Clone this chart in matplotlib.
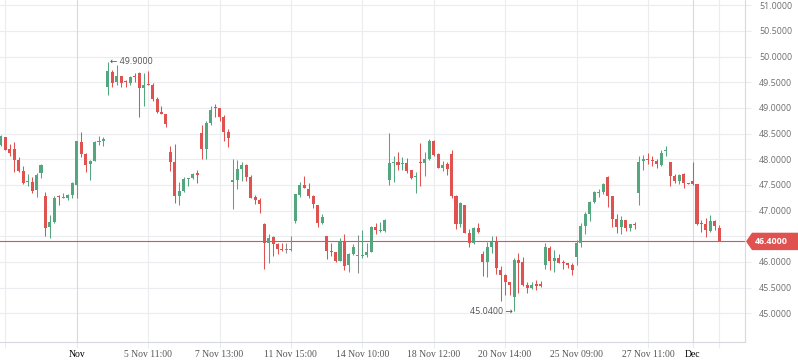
import matplotlib
matplotlib.use("Agg")
import matplotlib.pyplot as plt
from matplotlib.patches import Polygon
import numpy as np

# ---- data (hourly candles, index-based axis) ----
opens = [48.27, 48.43, 48.21, 48.21, 47.99, 47.77, 47.55, 47.55, 47.40, 47.73,
         47.29, 46.69, 46.78, 47.28, 47.25, 47.25, 47.30, 47.49, 48.34, 48.10,
         47.90, 47.97, 48.33, 48.36, 49.40, 49.71, 49.51, 49.62, 49.51, 49.48,
         49.62, 49.69, 49.38, 49.46, 49.45, 49.17, 48.91, 48.88, 48.14, 47.95,
         47.29, 47.38, 47.62, 47.63, 47.73, 48.51, 48.21, 48.71, 49.02, 49.00,
         48.82, 48.53, 47.56, 47.59, 47.82, 47.88, 47.66, 47.26, 47.21, 46.73,
         46.37, 46.48, 46.34, 46.25, 46.23, 46.23, 46.80, 47.30, 47.50, 47.42,
         47.29, 47.11, 46.76, 46.50, 46.22, 46.19, 46.02, 46.39, 45.94, 46.16,
         46.11, 46.11, 46.14, 46.20, 46.69, 46.61, 46.61, 47.60, 47.93, 47.94,
         47.90, 47.93, 47.79, 47.65, 47.94, 47.93, 48.00, 48.36, 48.11, 47.84,
         47.91, 48.10, 47.28, 46.74, 47.10, 46.56, 46.37, 46.66, 46.15, 46.00,
         46.30, 46.39, 45.85, 45.74, 45.61, 45.31, 46.04, 46.00, 45.55, 45.50,
         45.55, 45.55, 45.94, 46.28, 46.02, 46.07, 45.99, 45.97, 45.94, 46.10,
         46.37, 46.70, 46.94, 47.17, 47.35, 47.36, 47.66, 47.28, 46.84, 46.69,
         46.82, 46.67, 46.74, 47.35, 47.97, 48.01, 47.99, 47.97, 47.89, 48.16,
         47.95, 47.68, 47.58, 47.71, 47.54, 47.58, 47.52, 46.76, 46.73, 46.61,
         46.79, 46.66]
highs = [48.47, 48.43, 48.29, 48.34, 48.04, 47.86, 47.71, 47.65, 47.74, 47.91,
         47.37, 46.91, 47.29, 47.30, 47.35, 47.32, 47.56, 48.36, 48.53, 48.13,
         47.99, 48.35, 48.45, 48.43, 49.90, 49.74, 49.84, 49.62, 49.55, 49.62,
         49.68, 49.70, 49.68, 49.72, 49.49, 49.22, 49.04, 48.88, 48.26, 48.30,
         47.56, 47.66, 47.64, 47.74, 47.79, 48.67, 48.75, 49.03, 49.08, 49.00,
         48.86, 48.59, 48.00, 47.98, 47.95, 47.91, 47.69, 47.31, 47.25, 46.75,
         46.54, 46.51, 46.37, 46.37, 46.37, 46.50, 47.32, 47.56, 47.67, 47.53,
         47.31, 47.11, 46.93, 46.50, 46.37, 46.19, 46.46, 46.55, 46.17, 46.35,
         46.52, 46.62, 46.36, 46.70, 46.75, 46.78, 46.84, 48.52, 48.06, 48.14,
         48.04, 48.02, 47.80, 47.75, 48.32, 48.14, 48.40, 48.38, 48.13, 47.97,
         47.95, 48.18, 47.30, 47.16, 47.10, 46.64, 46.69, 46.76, 46.22, 46.38,
         46.50, 46.50, 45.93, 45.76, 45.61, 46.08, 46.18, 46.10, 45.61, 45.61,
         45.64, 45.63, 46.37, 46.31, 46.23, 46.15, 46.04, 45.98, 45.98, 46.43,
         46.76, 46.97, 47.19, 47.39, 47.42, 47.54, 47.67, 47.28, 46.93, 46.89,
         46.82, 46.74, 46.78, 48.06, 48.08, 48.13, 48.06, 48.01, 48.18, 48.26,
         47.95, 47.71, 47.72, 47.73, 47.54, 47.95, 47.52, 46.82, 46.85, 46.91,
         46.82, 46.72]
lows = [48.25, 48.18, 48.06, 47.76, 47.76, 47.52, 47.47, 47.35, 47.27, 47.64,
        46.51, 46.47, 46.75, 47.11, 47.24, 47.21, 47.25, 47.25, 48.05, 47.76,
        47.60, 47.97, 48.27, 48.25, 49.25, 49.41, 49.45, 49.40, 49.40, 49.45,
        49.51, 48.83, 49.03, 49.44, 49.14, 48.90, 48.88, 48.62, 47.78, 47.15,
        47.11, 47.36, 47.47, 47.61, 47.53, 48.01, 48.01, 48.67, 48.83, 48.74,
        48.36, 48.23, 47.03, 47.43, 47.58, 47.58, 47.25, 47.12, 46.96, 45.87,
        45.97, 46.12, 46.16, 46.21, 46.17, 46.21, 46.75, 47.27, 47.45, 47.25,
        47.06, 46.69, 46.74, 46.06, 46.12, 46.00, 46.02, 45.84, 45.81, 46.14,
        45.78, 46.07, 46.10, 46.20, 46.54, 46.59, 46.59, 47.50, 47.56, 47.80,
        47.80, 47.74, 47.62, 47.35, 47.47, 47.67, 47.98, 48.06, 47.83, 47.78,
        47.70, 47.24, 46.64, 46.69, 46.57, 46.30, 46.34, 46.57, 45.73, 45.71,
        46.17, 45.76, 45.24, 45.36, 45.36, 45.04, 45.39, 45.53, 45.39, 45.48,
        45.45, 45.52, 45.86, 45.84, 45.81, 45.98, 45.87, 45.88, 45.74, 45.94,
        46.29, 46.54, 46.80, 47.15, 47.27, 47.33, 47.08, 46.68, 46.57, 46.55,
        46.61, 46.61, 46.64, 47.11, 47.79, 47.90, 47.86, 47.84, 47.86, 48.06,
        47.47, 47.54, 47.51, 47.44, 47.52, 47.49, 46.72, 46.59, 46.49, 46.58,
        46.62, 46.40]
closes = [48.45, 48.18, 48.13, 47.99, 47.78, 47.54, 47.56, 47.39, 47.69, 47.89,
          46.67, 46.78, 47.25, 47.26, 47.26, 47.30, 47.54, 48.36, 48.11, 47.89,
          47.97, 48.34, 48.36, 48.40, 49.72, 49.49, 49.62, 49.49, 49.50, 49.61,
          49.61, 49.38, 49.45, 49.44, 49.17, 48.93, 48.89, 48.69, 47.95, 47.29,
          47.38, 47.62, 47.63, 47.72, 47.70, 48.21, 48.71, 48.96, 49.00, 48.83,
          48.54, 48.42, 47.59, 47.81, 47.88, 47.66, 47.25, 47.21, 47.13, 46.37,
          46.46, 46.34, 46.26, 46.23, 46.23, 46.25, 47.32, 47.50, 47.45, 47.29,
          47.12, 46.76, 46.87, 46.22, 46.20, 46.02, 46.39, 45.93, 46.15, 46.29,
          46.11, 46.13, 46.19, 46.68, 46.63, 46.62, 46.82, 47.92, 47.94, 47.88,
          47.92, 47.78, 47.63, 47.67, 47.92, 48.00, 48.36, 48.08, 47.83, 47.89,
          47.81, 47.29, 46.74, 47.14, 46.57, 46.37, 46.66, 46.58, 46.00, 46.29,
          46.39, 45.89, 45.75, 45.61, 45.56, 46.04, 45.98, 45.55, 45.50, 45.56,
          45.54, 45.54, 46.29, 46.02, 46.07, 45.98, 45.97, 45.95, 45.85, 46.37,
          46.70, 46.93, 47.17, 47.36, 47.37, 47.52, 47.29, 46.84, 46.68, 46.82,
          46.67, 46.74, 46.72, 47.95, 48.01, 47.99, 47.97, 47.91, 48.12, 48.17,
          47.67, 47.58, 47.69, 47.53, 47.52, 47.52, 46.73, 46.73, 46.63, 46.79,
          46.70, 46.40]

tick_pos = [1, 17, 33, 49, 65, 81, 97, 113, 129, 145, 155, 161]
tick_labels = ["", "Nov", "5 Nov 11:00", "7 Nov 13:00", "11 Nov 15:00",
               "14 Nov 10:00", "18 Nov 12:00", "20 Nov 14:00", "25 Nov 09:00",
               "27 Nov 11:00", "Dec", ""]
month_ticks = ["Nov", "Dec"]
y_ticks = [45.0, 45.5, 46.0, 46.5, 47.0, 47.5, 48.0, 48.5, 49.0, 49.5, 50.0, 50.5, 51.0]
last_price = 46.40
hi_label = (24, 49.90)
lo_label = (115, 45.04)

# ---- style ----
GREEN = "#53a67e"
RED = "#e0524f"
GRAY = "#8a8a8a"
GRID = "#eaecef"
GRID_DARK = "#d6d9de"

W, H = 798, 363
fig = plt.figure(figsize=(W / 100, H / 100), dpi=100)
ax_left, ax_right, ax_top, ax_bottom = 0, 745, 0, 342
ax = fig.add_axes([ax_left / W, (H - ax_bottom) / H,
                   (ax_right - ax_left) / W, (ax_bottom - ax_top) / H])

o = np.array(opens); h = np.array(highs); l = np.array(lows); c = np.array(closes)
x = np.arange(len(o))
cols = [GRAY if oo == cc else (GREEN if cc > oo else RED) for oo, cc in zip(o, c)]

ax.vlines(x, l, h, colors=cols, linewidth=0.75, zorder=3)
body_bottom = np.minimum(o, c)
body_h = np.maximum(np.abs(c - o), 0.022)
ax.bar(x, body_h, bottom=body_bottom, width=0.68, color=cols, linewidth=0, zorder=4)

# grid
for yt in y_ticks:
    ax.axhline(yt, color=GRID, linewidth=0.8, zorder=0)
for tp, tl in zip(tick_pos, tick_labels):
    ax.axvline(tp, color=GRID_DARK if tl in month_ticks else GRID, linewidth=0.8, zorder=0)

# last price line
ax.axhline(last_price, color=RED, linewidth=0.8, zorder=2)

spacing = 4.4625
x0 = 0.84
ax.set_xlim(-x0 / spacing, (745 - x0) / spacing)
ax.set_ylim(44.44, 51.104)

for s in ["top", "left"]:
    ax.spines[s].set_visible(False)
for s in ["bottom", "right"]:
    ax.spines[s].set_color(GRID_DARK)
    ax.spines[s].set_linewidth(0.8)

ax.yaxis.tick_right()
ax.set_yticks(y_ticks)
# the 46.5 label is hidden behind the last-price tag in the reference
ax.set_yticklabels(["" if abs(v - last_price) < 0.2 else f"{v:.4f}" for v in y_ticks])
ax.tick_params(axis="y", length=4, color=GRID, width=0.8, pad=6,
               labelsize=6.4, labelcolor="#707070")
for t in ax.get_yticklabels():
    t.set_family("Open Sans")

ax.set_xticks(tick_pos)
ax.set_xticklabels(tick_labels)
ax.tick_params(axis="x", length=4, color=GRID, width=0.8, pad=2,
               labelsize=6.9, labelcolor="#555555")
for t in ax.get_xticklabels():
    t.set_family("Liberation Serif")
    if t.get_text() in month_ticks:
        t.set_color("black")

# annotations
ax.text(hi_label[0] + 0.55, hi_label[1], "\u2190 " + f"{hi_label[1]:.4f}",
        ha="left", va="center", fontsize=6.4, color="#555555",
        family=["Open Sans", "DejaVu Sans"], zorder=5)
ax.text(lo_label[0] - 0.25, lo_label[1], f"{lo_label[1]:.4f}" + " \u2192",
        ha="right", va="center", fontsize=6.4, color="#555555",
        family=["Open Sans", "DejaVu Sans"], zorder=5)

# last price tag
yc = ax.transData.transform((0, last_price))[1]  # display px from bottom
ytop = yc + 8.7
ybot = yc - 8.7
poly = Polygon([(746, yc), (752, ytop), (798, ytop), (798, ybot), (752, ybot)],
               closed=True, transform=None, facecolor=RED, edgecolor="none",
               zorder=10)
fig.patches.append(poly)
fig.text(755 / W, yc / H, f"{last_price:.4f}", ha="left", va="center",
         fontsize=6.4, color="white", weight="bold", family="Open Sans",
         zorder=11)

fig.savefig("out.png", dpi=100)
